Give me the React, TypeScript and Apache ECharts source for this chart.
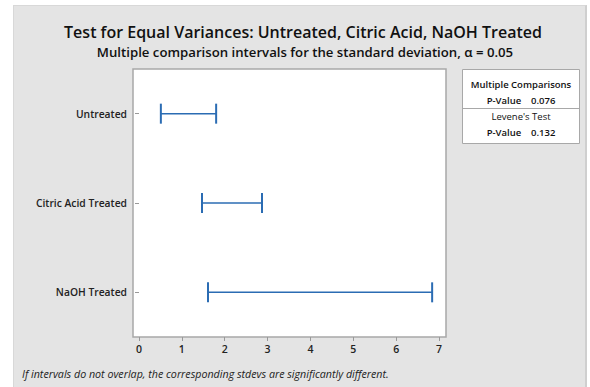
import React, { useEffect, useRef } from "react";
import * as echarts from "echarts";

const categories = ["Untreated", "Citric Acid Treated", "NaOH Treated"];
const lowerBounds = [0.51, 1.47, 1.61];
const upperBounds = [1.8, 2.87, 6.84];
const xTicks = [0, 1, 2, 3, 4, 5, 6, 7];
const multipleComparisonsP = "0.076";
const leveneP = "0.132";

const FONT = "'Open Sans', 'Noto Sans', sans-serif";
const BLUE = "#2b6cb3";

export default function App() {
  const ref = useRef<HTMLDivElement>(null);
  useEffect(() => {
    if (!ref.current) return;
    const chart = echarts.init(ref.current, undefined, { renderer: "svg" });
    const data = categories.map((c, i) => [lowerBounds[i], upperBounds[i], i]);
    const boxText = (text: string, y: number, weight: number) => ({
      type: "text",
      x: 58.5,
      y,
      style: {
        text,
        fontFamily: FONT,
        fontSize: 9.5,
        fontWeight: weight,
        fill: "#111",
        align: "center",
        verticalAlign: "middle",
      },
    });
    chart.setOption({
      animation: false,
      textStyle: { fontFamily: FONT },
      title: [
        {
          text: "Test for Equal Variances: Untreated, Citric Acid, NaOH Treated",
          left: 298,
          top: 19,
          textAlign: "center",
          textStyle: { fontFamily: FONT, fontSize: 16, fontWeight: 600, color: "#111" },
        },
        {
          text: "Multiple comparison intervals for the standard deviation, α = 0.05",
          left: 300,
          top: 40,
          textAlign: "center",
          textStyle: { fontFamily: FONT, fontSize: 13.2, fontWeight: 600, color: "#111" },
        },
      ],
      grid: [
        {
          left: 133,
          top: 69,
          width: 313,
          height: 268,
          show: true,
          backgroundColor: "#ffffff",
          borderColor: "#a8a8a8",
          borderWidth: 1.5,
        },
        { left: 139, width: 300, top: 69, height: 268 },
      ],
      xAxis: [
        { gridIndex: 0, type: "value", min: 0, max: 1, show: false },
        {
          gridIndex: 1,
          type: "value",
          min: 0,
          max: 7,
          interval: 1,
          axisLine: { show: false },
          axisTick: { show: true, length: 4, lineStyle: { color: "#999", width: 1 } },
          splitLine: { show: false },
          axisLabel: {
            margin: 6,
            fontFamily: FONT,
            fontSize: 10.5,
            fontWeight: 600,
            color: "#222",
            formatter: (v: number) => (xTicks.includes(v) ? String(v) : ""),
          },
        },
      ],
      yAxis: [
        { gridIndex: 0, type: "value", min: 0, max: 1, show: false },
        {
          gridIndex: 1,
          type: "category",
          data: categories,
          inverse: true,
          offset: 6,
          axisLine: { show: false },
          axisTick: { show: true, alignWithLabel: true, length: 4, lineStyle: { color: "#999" } },
          splitLine: { show: false },
          axisLabel: {
            margin: 6,
            fontFamily: FONT,
            fontSize: 10.3,
            fontWeight: 600,
            color: "#222",
          },
        },
      ],
      series: [
        {
          type: "custom",
          xAxisIndex: 1,
          yAxisIndex: 1,
          z: 5,
          data,
          encode: { x: [0, 1], y: 2 },
          renderItem: (params: any, api: any) => {
            const lo = api.coord([api.value(0), api.value(2)]);
            const hi = api.coord([api.value(1), api.value(2)]);
            const h = 10;
            const style = { stroke: BLUE, lineWidth: 1.5, fill: "none" };
            const cap = { stroke: BLUE, lineWidth: 2, fill: "none" };
            return {
              type: "group",
              children: [
                { type: "line", shape: { x1: lo[0], y1: lo[1], x2: hi[0], y2: hi[1] }, style },
                { type: "line", shape: { x1: lo[0], y1: lo[1] - h, x2: lo[0], y2: lo[1] + h }, style: cap },
                { type: "line", shape: { x1: hi[0], y1: hi[1] - h, x2: hi[0], y2: hi[1] + h }, style: cap },
              ],
            };
          },
        },
      ],
      graphic: [
        {
          type: "group",
          left: 460,
          top: 69,
          z: 10,
          children: [
            {
              type: "rect",
              shape: { x: 0, y: 0, width: 117, height: 74 },
              style: { fill: "#ffffff", stroke: "#a8a8a8", lineWidth: 1 },
            },
            {
              type: "line",
              shape: { x1: 0, y1: 39, x2: 117, y2: 39 },
              style: { stroke: "#a8a8a8", lineWidth: 1 },
            },
            boxText("Multiple Comparisons", 15, 600),
            boxText("P-Value    " + multipleComparisonsP, 31, 600),
            boxText("Levene's Test", 47, 500),
            boxText("P-Value    " + leveneP, 63, 600),
          ],
        },
        {
          type: "text",
          left: 22,
          top: 368,
          style: {
            text: "If intervals do not overlap, the corresponding stdevs are significantly different.",
            fontFamily: FONT,
            fontSize: 10.7,
            fontStyle: "italic",
            fill: "#222",
          },
        },
      ],
    });
    return () => chart.dispose();
  }, []);

  return (
    <div style={{ position: "fixed", left: 0, top: 0, width: 590, height: 387, background: "#ffffff" }}>
      <div
        style={{
          position: "absolute",
          left: 13,
          top: 5,
          width: 574,
          height: 382,
          background: "#e4e4e4",
          borderTop: "1px solid #d8d8d8",
          borderLeft: "1px solid #d8d8d8",
          borderRight: "2px solid #cfcfcf",
          boxSizing: "border-box",
        }}
      />
      <div ref={ref} style={{ position: "absolute", left: 0, top: 0, width: 590, height: 387 }} />
    </div>
  );
}
